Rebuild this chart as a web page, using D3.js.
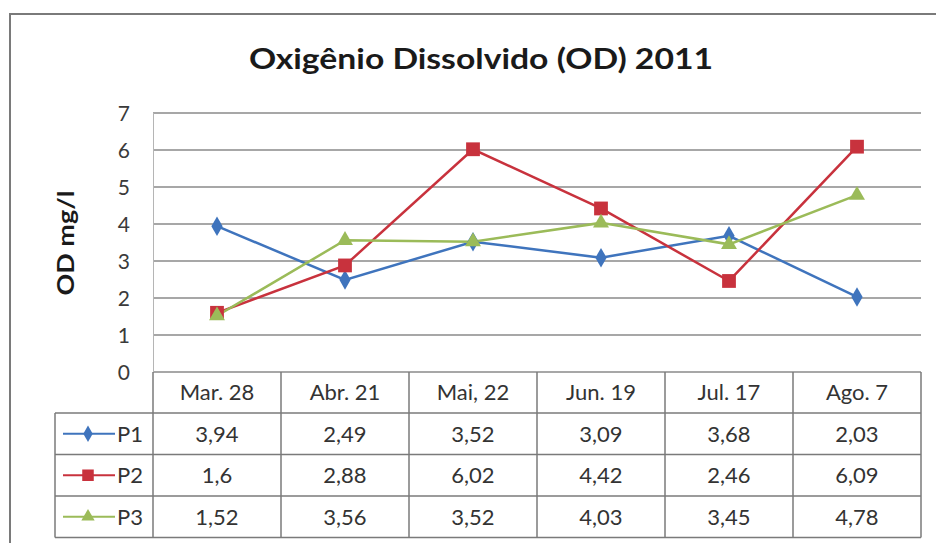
<!DOCTYPE html>
<html>
<head>
<meta charset="utf-8">
<script src="https://cdn.jsdelivr.net/npm/d3@7"></script>
<style>
  html, body { margin: 0; padding: 0; background: #fff; }
  svg { display: block; font-family: Lato, "Open Sans", sans-serif; }
</style>
</head>
<body>
<svg id="chart"></svg>
<script>
// data
const categories = ['Mar. 28', 'Abr. 21', 'Mai, 22', 'Jun. 19', 'Jul. 17', 'Ago. 7'];
const seriesNames = ['P1', 'P2', 'P3'];
const p1 = [3.94, 2.49, 3.52, 3.09, 3.68, 2.03];
const p2 = [1.6, 2.88, 6.02, 4.42, 2.46, 6.09];
const p3 = [1.52, 3.56, 3.52, 4.03, 3.45, 4.78];
const yTicks = [0, 1, 2, 3, 4, 5, 6, 7];

(function(){
  let width = 936, height = 543;
  let svg = d3.select('svg#chart')
      .attr('width', width)
      .attr('height', height);

  let series = [
    {name: seriesNames[0], values: p1, color: '#3f74bd', symbol: d3.symbolDiamond, size: 110},
    {name: seriesNames[1], values: p2, color: '#c8323d', symbol: d3.symbolSquare, size: 190},
    {name: seriesNames[2], values: p3, color: '#9bbb59', symbol: d3.symbolTriangle, size: 110}
  ];

  let fmt = v => String(v).replace('.', ',');

  // outer frame (runs off the right and bottom edge)
  svg.append('rect')
      .attr('x', 10).attr('y', 14)
      .attr('width', 960).attr('height', 580)
      .attr('fill', '#fff')
      .attr('stroke', '#7a7a7a')
      .attr('stroke-width', 2);

  let x = d3.scaleBand().domain(categories).range([153, 921]);
  let y = d3.scaleLinear().domain([0, 7]).range([372, 113]);

  // title
  svg.append('text')
      .attr('x', 481).attr('y', 69)
      .attr('text-anchor', 'middle')
      .attr('font-size', 28)
      .attr('font-weight', 'bold')
      .attr('fill', '#1a1a1a')
      .attr('textLength', 464)
      .attr('lengthAdjust', 'spacingAndGlyphs')
      .text('Oxigênio Dissolvido (OD) 2011');

  // y axis label
  svg.append('text')
      .attr('transform', 'translate(74,243) rotate(-90)')
      .attr('text-anchor', 'middle')
      .attr('font-size', 22)
      .attr('font-weight', 'bold')
      .attr('fill', '#1a1a1a')
      .attr('textLength', 105)
      .attr('lengthAdjust', 'spacingAndGlyphs')
      .text('OD mg/l');

  // gridlines + tick labels
  let grid = svg.append('g');
  grid.selectAll('line')
    .data(yTicks)
    .enter().append('line')
      .attr('x1', x.range()[0]).attr('x2', x.range()[1])
      .attr('y1', d => y(d)).attr('y2', d => y(d))
      .attr('stroke', '#8a8a8a')
      .attr('stroke-width', 1.5);

  grid.selectAll('text')
    .data(yTicks)
    .enter().append('text')
      .attr('x', 130)
      .attr('y', d => y(d))
      .attr('dy', '0.36em')
      .attr('text-anchor', 'end')
      .attr('font-size', 21)
      .attr('fill', '#3a3a3a')
      .text(d => d);

  svg.append('line')
      .attr('x1', 153.5).attr('x2', 153.5)
      .attr('y1', y(7)).attr('y2', y(0))
      .attr('stroke', '#b5b5b5')
      .attr('stroke-width', 1);

  // lines and markers
  let line = d3.line()
      .x((d, i) => x(categories[i]) + x.bandwidth() / 2)
      .y(d => y(d));

  let plot = svg.append('g');
  series.forEach(s => {
    plot.append('path')
        .attr('d', line(s.values))
        .attr('fill', 'none')
        .attr('stroke', s.color)
        .attr('stroke-width', 2.5);
  });
  series.forEach(s => {
    plot.selectAll(null)
      .data(s.values)
      .enter().append('path')
        .attr('transform', (d, i) => `translate(${x(categories[i]) + x.bandwidth() / 2},${y(d)})`)
        .attr('d', d3.symbol().type(s.symbol).size(s.size))
        .attr('fill', s.color);
  });

  // data table
  let headerTop = 372, headerH = 41, rowH = 41.5, legendLeft = 55;
  let table = svg.append('g')
      .attr('stroke', '#7a7a7a')
      .attr('stroke-width', 1.5);

  let rowTop = i => headerTop + headerH + i * rowH;
  let tableBottom = rowTop(series.length);

  // horizontal rules
  table.selectAll('line.h')
    .data(d3.range(series.length + 1))
    .enter().append('line')
      .attr('class', 'h')
      .attr('x1', legendLeft).attr('x2', x.range()[1])
      .attr('y1', d => rowTop(d)).attr('y2', d => rowTop(d));

  // vertical rules
  let cols = categories.map(c => x(c)).concat([x.range()[1]]);
  table.selectAll('line.v')
    .data(cols)
    .enter().append('line')
      .attr('class', 'v')
      .attr('x1', d => d).attr('x2', d => d)
      .attr('y1', headerTop).attr('y2', tableBottom);

  table.append('line')
      .attr('x1', legendLeft).attr('x2', legendLeft)
      .attr('y1', rowTop(0)).attr('y2', tableBottom);

  let txt = svg.append('g')
      .attr('font-size', 22)
      .attr('fill', '#333')
      .attr('text-anchor', 'middle');

  txt.selectAll('text.cat')
    .data(categories)
    .enter().append('text')
      .attr('class', 'cat')
      .attr('x', d => x(d) + x.bandwidth() / 2)
      .attr('y', headerTop + headerH / 2)
      .attr('dy', '0.36em')
      .text(d => d);

  series.forEach((s, r) => {
    let cy = rowTop(r) + rowH / 2;
    txt.selectAll(null)
      .data(s.values)
      .enter().append('text')
        .attr('x', (d, i) => x(categories[i]) + x.bandwidth() / 2)
        .attr('y', cy)
        .attr('dy', '0.36em')
        .text(d => fmt(d));

    // legend key
    svg.append('line')
        .attr('x1', 63).attr('x2', 115)
        .attr('y1', cy).attr('y2', cy)
        .attr('stroke', s.color)
        .attr('stroke-width', 2);
    svg.append('path')
        .attr('transform', `translate(88,${cy})`)
        .attr('d', d3.symbol().type(s.symbol).size(s.size * 0.7))
        .attr('fill', s.color);
    svg.append('text')
        .attr('x', 117).attr('y', cy)
        .attr('dy', '0.36em')
        .attr('font-size', 22)
        .attr('fill', '#333')
        .text(s.name);
  });
})();
</script>
</body>
</html>
